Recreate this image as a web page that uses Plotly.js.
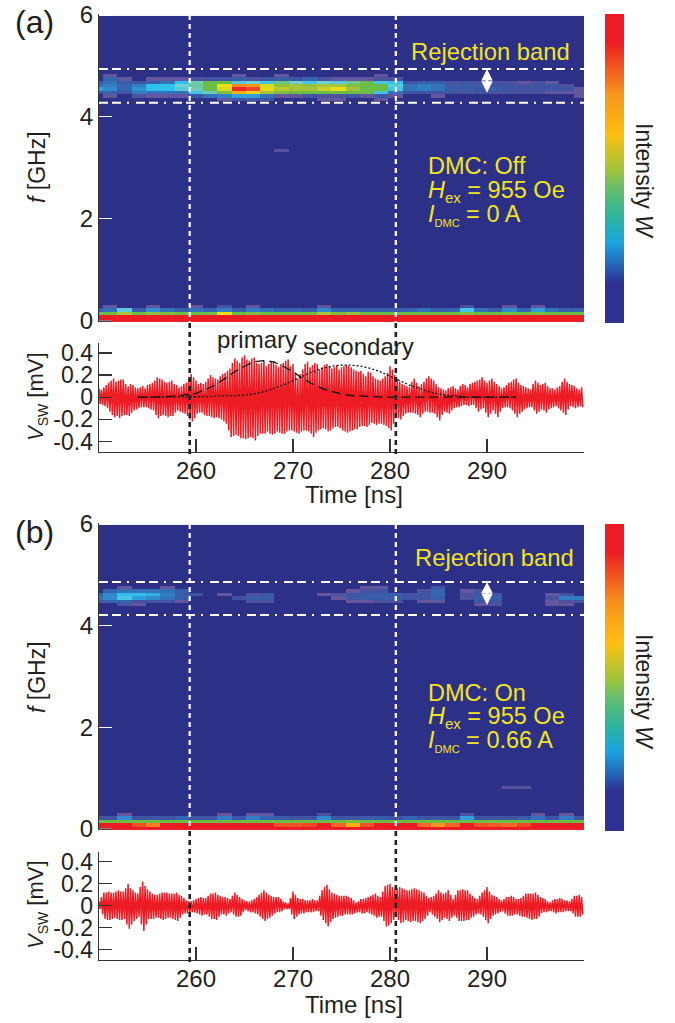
<!DOCTYPE html>
<html><head><meta charset="utf-8">
<script src="https://cdn.plot.ly/plotly-3.0.1.min.js"></script>
<style>html,body{margin:0;padding:0;background:#fff}#g{width:675px;height:1023px}</style>
</head><body><div id="g"></div>
<script>
// --- Spectrogram rows (35 time bins), named by row index k, f = 0.012 + 0.0667 k GHz ---
const a72=[0,.10,0,0,0,0,0,0,0,0,.10,0,0,.10,0,0,0,0,0,0,.10,0,0,0,0,0,0,0,0,0,0,0,0,0,0];
const a71=[0,.18,.10,0,.10,.10,.10,.12,.14,.14,.16,.12,.14,.16,.14,.18,.12,.10,.10,.10,.12,.12,0,0,0,0,0,0,0,0,0,0,0,0,0];
const a70=[.14,.20,.16,.14,.16,.20,.28,.36,.44,.44,.32,.34,.30,.40,.34,.30,.34,.32,.38,.44,.30,.28,.14,.16,.16,.12,.14,.12,.12,.12,.10,.12,.10,0,0];
const a69=[.20,.22,.18,.22,.28,.28,.34,.38,.44,.58,.80,.78,.56,.48,.50,.48,.50,.50,.46,.44,.44,.32,.20,.22,.20,.16,.16,.16,.14,.14,.14,.14,.14,.12,0];
const a68=[.26,.24,.18,.25,.28,.28,.32,.36,.44,.56,.98,.92,.60,.52,.50,.50,.54,.58,.50,.44,.44,.30,.20,.22,.20,.16,.16,.14,.16,.14,.14,.14,.14,.14,.10];
const a67=[.14,.18,.14,.22,.20,.20,.20,.30,.36,.46,.72,.62,.50,.46,.44,.44,.44,.44,.44,.44,.30,.20,.14,.14,.14,.14,.12,.14,.12,.12,.12,.12,.10,.10,.10];
const a66=[0,.10,0,.12,.10,.10,.10,.14,.20,.22,.26,.26,.20,.10,.10,.14,.12,.12,.14,.10,.14,.10,0,0,.10,0,0,0,0,0,0,0,0,0,.10];
const a65=[0,0,0,0,0,0,0,0,0,.10,.14,.14,.14,0,0,0,.10,.10,0,0,.10,0,0,0,0,0,0,0,0,0,0,0,0,0,0];
const a50=[0,0,0,0,0,0,0,0,0,0,0,0,0,.11,0,0,0,0,0,0,0,0,0,0,0,0,0,0,0,0,0,0,0,0,0];
const a04=[0,.10,0,0,.10,0,0,.10,0,.14,0,.10,0,0,0,0,.10,0,0,0,0,0,0,0,0,0,.14,0,0,.10,0,.10,0,0,0];
const a03=[.16,.20,.32,.16,.25,.20,.16,.20,.18,.22,.16,.22,.20,.18,.18,.16,.24,.18,.18,.16,.16,.16,.18,.20,.16,.18,.30,.20,.16,.24,.18,.26,.20,.16,.18];
const a02=[.44,.44,.50,.44,.47,.46,.44,.44,.45,.58,.44,.46,.44,.44,.44,.44,.50,.46,.48,.44,.44,.44,.44,.44,.44,.44,.46,.44,.44,.45,.44,.45,.44,.44,.44];
const a01=new Array(35).fill(1), a00=new Array(35).fill(1);

const b71=[0,0,.10,0,0,.10,0,0,0,0,0,0,0,0,0,0,0,0,0,.10,.10,0,0,0,.14,0,0,0,0,0,0,0,0,0,0];
const b70=[0,.18,.20,.20,.20,.20,.16,0,0,0,0,0,0,0,0,0,0,0,.10,.12,.14,0,0,.12,.18,0,.10,.12,0,0,0,0,0,0,0];
const b69=[.18,.24,.28,.28,.27,.22,.16,.14,0,.10,0,.12,.14,0,0,0,.10,.12,.14,.16,.16,.16,.14,.14,.18,0,.12,.14,.14,0,0,0,.10,.14,0];
const b68=[.20,.24,.30,.26,.24,.20,.16,0,0,0,.13,.16,.16,0,0,0,0,.10,.14,.16,.16,.16,.14,.14,.16,0,.12,.16,.16,0,0,0,.12,.22,.22];
const b67=[.12,.18,.18,.14,.14,.14,.10,0,0,0,0,.12,.12,0,0,0,0,0,.10,.10,.12,.12,0,.10,.10,0,0,.14,.14,0,0,0,.10,.12,.14];
const b66=[0,0,.12,.10,0,0,0,0,0,0,0,0,0,0,0,0,0,0,0,0,0,0,0,0,0,0,0,.10,.12,0,0,0,.10,.10,0];
const b12=[0,0,0,0,0,0,0,0,0,0,0,0,0,0,0,0,0,0,0,0,0,0,0,0,0,0,0,0,0,.11,.11,0,0,0,0];
const b04=[0,0,.10,0,0,0,0,0,0,.10,0,.10,.10,0,0,0,.12,0,0,0,0,0,0,0,0,0,.12,0,0,0,0,.10,0,.10,0];
const b03=[.14,.14,.24,.14,.14,.14,.18,.14,.14,.22,.14,.22,.18,.16,.14,.14,.24,.14,.14,.16,.16,.14,.18,.14,.14,.14,.26,.14,.14,.14,.16,.20,.14,.22,.14];
const b02=[.44,.44,.44,.44,.44,.44,.44,.44,.44,.44,.44,.44,.44,.44,.44,.44,.44,.44,.46,.44,.44,.44,.44,.44,.44,.44,.44,.44,.44,.44,.44,.44,.44,.44,.44];
const b01=[1,1,1,.90,.82,1,1,1,1,1,1,1,1,.90,.90,.92,1,.86,.72,.90,1,1,1,.86,.78,.86,1,.90,.88,.86,.92,1,1,1,1];
const b00=new Array(35).fill(1);

// --- Spin-wave voltage: peak sizes in mV, every 0.125 ns from 250 ns (upper, lower, midUpper, midLower in turn) ---
const upperA=[.08,.09,.13,.17,.15,.16,.10,.11,.08,.10,
.11,.13,.18,.16,.13,.15,.11,.10,.13,.21,
.15,.13,.14,.20,.17,.19,.22,.26,.35,.31,
.38,.33,.36,.30,.33,.30,.32,.27,.31,.34,
.30,.17,.25,.32,.29,.30,.27,.30,.26,.29,
.27,.29,.27,.24,.24,.19,.22,.17,.15,.19,
.28,.20,.14,.11,.09,.17,.10,.14,.19,.15,
.09,.07,.08,.10,.07,.12,.09,.13,.15,.18,
.13,.17,.12,.08,.11,.14,.17,.11,.09,.07,
.15,.11,.13,.08,.07,.10,.17,.12,.10,.07];
const lowerA=[.06,.08,.13,.18,.19,.16,.17,.12,.10,.09,
.10,.12,.19,.16,.18,.17,.12,.14,.17,.22,
.15,.14,.17,.18,.18,.20,.24,.36,.34,.37,
.38,.36,.39,.33,.33,.33,.33,.32,.33,.30,
.31,.33,.30,.31,.36,.30,.28,.31,.28,.27,
.30,.32,.30,.29,.26,.27,.23,.25,.24,.26,
.30,.18,.20,.15,.14,.15,.18,.13,.14,.15,
.21,.13,.15,.10,.09,.07,.08,.07,.13,.10,
.18,.12,.18,.10,.09,.12,.18,.13,.10,.09,
.15,.11,.14,.10,.08,.12,.16,.08,.10,.08];
const midUpperA=[.07,.11,.15,.14,.16,.12,.12,.09,.09,.08,
.12,.15,.17,.14,.14,.12,.09,.12,.17,.18,
.12,.12,.17,.18,.16,.21,.24,.31,.33,.36,
.34,.35,.31,.31,.28,.33,.29,.30,.33,.28,
.22,.21,.30,.27,.31,.25,.29,.28,.27,.25,
.28,.28,.25,.23,.21,.23,.19,.16,.17,.22,
.25,.17,.12,.10,.14,.13,.12,.17,.17,.12,
.08,.06,.09,.08,.10,.11,.12,.14,.16,.15,
.15,.14,.10,.09,.13,.16,.13,.10,.08,.12,
.13,.12,.10,.08,.09,.14,.14,.11,.08,.09];
const midLowerA=[.07,.10,.16,.17,.17,.16,.14,.11,.09,.09,
.11,.16,.17,.17,.17,.14,.13,.15,.20,.19,
.14,.16,.17,.19,.19,.22,.30,.35,.35,.37,
.37,.37,.35,.33,.31,.34,.31,.33,.31,.30,
.32,.31,.30,.33,.32,.29,.29,.30,.27,.28,
.31,.31,.29,.27,.26,.25,.24,.24,.25,.28,
.24,.19,.17,.14,.14,.16,.15,.13,.14,.18,
.16,.14,.12,.09,.08,.07,.07,.10,.11,.14,
.15,.15,.13,.09,.10,.15,.15,.11,.09,.12,
.13,.12,.11,.09,.10,.14,.11,.09,.09,.09];
const upperB=[.04,.12,.13,.12,.14,.13,.20,.14,.11,.22,
.15,.11,.10,.12,.12,.11,.12,.09,.05,.04,
.06,.08,.07,.11,.12,.09,.08,.06,.12,.08,
.05,.04,.06,.10,.14,.10,.08,.08,.04,.02,
.13,.07,.06,.05,.06,.05,.14,.19,.12,.10,
.09,.09,.07,.03,.06,.07,.09,.11,.08,.18,
.20,.15,.17,.15,.14,.16,.14,.12,.07,.09,
.14,.11,.14,.06,.14,.15,.14,.09,.06,.12,
.17,.10,.08,.05,.08,.09,.06,.07,.11,.11,
.12,.08,.06,.03,.06,.07,.05,.04,.09,.10];
const lowerB=[.03,.12,.13,.11,.13,.12,.21,.14,.10,.23,
.12,.12,.11,.13,.11,.12,.14,.08,.07,.06,
.07,.09,.08,.12,.13,.08,.09,.06,.10,.09,
.04,.06,.07,.10,.14,.11,.07,.06,.03,.03,
.12,.08,.07,.06,.06,.05,.13,.19,.12,.10,
.09,.08,.08,.06,.07,.06,.08,.11,.10,.19,
.16,.10,.16,.13,.15,.14,.16,.12,.06,.10,
.15,.11,.14,.09,.14,.14,.13,.10,.07,.10,
.16,.09,.07,.05,.09,.09,.08,.10,.11,.13,
.12,.07,.06,.05,.07,.06,.05,.05,.10,.10];
const midUpperB=[.08,.12,.12,.13,.13,.16,.16,.12,.17,.18,
.13,.10,.11,.12,.11,.11,.10,.07,.04,.05,
.07,.07,.09,.11,.10,.08,.07,.09,.10,.06,
.04,.05,.08,.12,.12,.09,.08,.06,.03,.07,
.10,.06,.05,.05,.05,.09,.17,.15,.11,.09,
.09,.08,.05,.04,.06,.08,.10,.09,.13,.19,
.17,.16,.16,.14,.15,.15,.13,.09,.08,.11,
.12,.12,.10,.10,.14,.14,.11,.07,.09,.14,
.13,.09,.06,.06,.08,.08,.06,.09,.11,.11,
.10,.07,.04,.05,.06,.06,.05,.06,.09,.08];
const midLowerB=[.08,.13,.12,.12,.13,.17,.17,.12,.17,.17,
.12,.11,.12,.12,.11,.13,.11,.07,.06,.06,
.08,.08,.10,.12,.10,.08,.07,.08,.10,.06,
.05,.06,.08,.12,.12,.09,.06,.05,.03,.08,
.10,.07,.06,.06,.05,.09,.16,.15,.11,.09,
.08,.08,.07,.06,.07,.07,.09,.10,.14,.18,
.13,.13,.15,.14,.14,.15,.14,.09,.08,.12,
.13,.12,.11,.11,.14,.13,.11,.08,.08,.13,
.12,.08,.06,.07,.09,.08,.09,.10,.12,.12,
.10,.06,.05,.06,.06,.06,.05,.07,.10,.08];

// --- Fitted pulses in panel (a) ---
const pulseTimes=[254,255,256,257,258,259,260,261,262,263,264,265,266,267,268,269,270,271,272,273,274,275,276,277,278,279,280,281,282,283,284,285,286,287,288,289,290,291,292,293];
const primary=[0,0,0,.005,.01,.02,.035,.07,.11,.17,.23,.28,.32,.33,.32,.28,.23,.17,.12,.08,.05,.03,.015,.01,.005,0,0,0,0,0,0,0,0,0,0,0,0,0,0,0];
const secondary=[0,0,0,0,0,0,0,.005,.01,.01,.015,.02,.03,.05,.08,.11,.15,.19,.23,.26,.28,.29,.29,.28,.26,.23,.19,.15,.11,.08,.05,.03,.015,.01,0,0,0,0,0,0];

// --- Ticks ---
const timeTicks=[260,270,280,290,300], timeLabels=['260','270','280','290',' '];
const fTicks=[0,2,4,6];
const vTicks=[.4,.2,0,-.2,-.4], vLabels=['0.4','0.2','0','-0.2','-0.4'];

// --- Helpers ---
const W=675,H=1023;
const px=(a,b)=>[1-b/H,1-a/H];
const rowCount=90, colCount=35;
function grid(rows){const z=[];for(let k=0;k<rowCount;k++){z.push(rows[k]||new Array(colCount).fill(0));}return z;}
function zig(up,lo,mu,ml){const t=[],v=[];up.forEach((u,i)=>{const b=250+i*.5;t.push(b);v.push(u);t.push(b+.125);v.push(-lo[i]);t.push(b+.25);v.push(mu[i]);t.push(b+.375);v.push(-ml[i]);});return{t,v};}

const heatScale=[[0,'#2c3187'],[.07,'#2c3187'],[.10,'#64559f'],[.13,'#41509f'],[.18,'#3565b0'],[.25,'#2f90d0'],[.28,'#2fc0ee'],[.34,'#6fd0d0'],[.44,'#6abd45'],[.50,'#a6c43a'],[.58,'#e8e116'],[.68,'#fdc010'],[.78,'#f7941d'],[.88,'#f15a29'],[1,'#ed1c24']];
const barScale=[[0,'#2e3192'],[.13,'#2e3192'],[.26,'#1ba5df'],[.34,'#2bb3a0'],[.44,'#6abd6a'],[.49,'#9bc43c'],[.61,'#fdc010'],[.74,'#f7941d'],[.91,'#ed1c24'],[1,'#ed1c24']];

const textCol='#231f20', yellow='#f2e423', font='Liberation Sans, Arial, sans-serif', red='#ed1c24';

function heat(rows,xa,ya){return{type:'heatmap',z:grid(rows),x0:249.7,dx:1.469,y0:.012,dy:.0667,xaxis:xa,yaxis:ya,colorscale:heatScale,zmin:0,zmax:1,showscale:false,hoverinfo:'skip'};}
function bar(xa,ya,top,len){return{type:'scatter',mode:'markers',x:[275,275],y:[-50,-50],xaxis:xa,yaxis:ya,hoverinfo:'skip',showlegend:false,
 marker:{size:1,color:[0,1],cmin:0,cmax:1,colorscale:barScale,showscale:true,colorbar:{x:605/W,xanchor:'left',xpad:0,ypad:0,y:1-top/H,yanchor:'top',lenmode:'fraction',len:len/H,thickness:19,thicknessmode:'pixels',outlinewidth:0,ticks:'',showticklabels:false,tickvals:[]}}};}
function wave(up,lo,mu,ml,xa,ya){const s=zig(up,lo,mu,ml);return{type:'scatter',mode:'lines',x:s.t,y:s.v,xaxis:xa,yaxis:ya,line:{color:red,width:1.5},hoverinfo:'skip',showlegend:false};}

const rowsA={72:a72,71:a71,70:a70,69:a69,68:a68,67:a67,66:a66,65:a65,50:a50,4:a04,3:a03,2:a02,1:a01,0:a00};
const rowsB={71:b71,70:b70,69:b69,68:b68,67:b67,66:b66,12:b12,4:b04,3:b03,2:b02,1:b01,0:b00};

const data=[
 heat(rowsA,'x','y'),
 bar('x','y',14,309),
 wave(upperA,lowerA,midUpperA,midLowerA,'x2','y2'),
 {type:'scatter',mode:'lines',x:pulseTimes,y:primary,xaxis:'x2',yaxis:'y2',line:{color:'#111',width:1.3,dash:'9px,5px'},hoverinfo:'skip',showlegend:false},
 {type:'scatter',mode:'lines',x:pulseTimes,y:secondary,xaxis:'x2',yaxis:'y2',line:{color:'#111',width:1.3,dash:'2px,2px'},hoverinfo:'skip',showlegend:false},
 heat(rowsB,'x3','y3'),
 bar('x3','y3',524,307),
 wave(upperB,lowerB,midUpperB,midLowerB,'x4','y4')
];

const xDom=[99/W,584/W];
const heatY=(dom)=>({domain:dom,range:[-.021,6.02],tickmode:'array',tickvals:fTicks,ticks:'inside',ticklen:13,tickwidth:1,tickcolor:'#fff',showline:true,linecolor:'#333',linewidth:1.2,showgrid:false,zeroline:false,tickfont:{family:font,size:24,color:textCol}});
const heatX=(anchor)=>({domain:xDom,range:[250,300],anchor:anchor,showticklabels:false,ticks:'',showgrid:false,zeroline:false,showline:false});
const waveY=(dom)=>({domain:dom,range:[-.495,.49],tickmode:'array',tickvals:vTicks,ticktext:vLabels,ticks:'inside',ticklen:13,tickwidth:1.2,tickcolor:'#333',showline:true,linecolor:'#333',linewidth:1.4,showgrid:false,zeroline:false,tickfont:{family:font,size:23,color:textCol}});
const waveX=(anchor)=>({domain:xDom,range:[250,300],anchor:anchor,tickmode:'array',tickvals:timeTicks,ticktext:timeLabels,ticks:'inside',ticklen:13,tickwidth:1.2,tickcolor:'#333',showline:true,linecolor:'#333',linewidth:1.4,showgrid:false,zeroline:false,ticklabelstandoff:-3,tickfont:{family:font,size:24,color:textCol}});

function note(text,xp,yp,size,opts){return Object.assign({text:text,xref:'paper',yref:'paper',x:xp/W,y:1-yp/H,xanchor:'left',yanchor:'middle',showarrow:false,font:{family:font,size:size,color:textCol}},opts||{});}
const ylw=(s)=>({font:{family:font,size:s,color:yellow}});
const small=(t,s)=>'<sub><span style="font-size:'+s+'px">'+t+'</span></sub>';

const annotations=[
 note('(a)',13,22,32),note('(b)',13,532,32),
 note('<i>f</i> [GHz]',37,167,23,{xanchor:'center',textangle:-90}),
 note('<i>f</i> [GHz]',37,677,23,{xanchor:'center',textangle:-90}),
 note('<i>V</i>'+small('SW',14)+' [mV]',37,397,22,{xanchor:'center',textangle:-90}),
 note('<i>V</i>'+small('SW',14)+' [mV]',37,905,22,{xanchor:'center',textangle:-90}),
 note('Time [ns]',354,494,24,{xanchor:'center'}),
 note('Time [ns]',354,1004,24,{xanchor:'center'}),
 note('Intensity <i>W</i>',644,181,23,{xanchor:'center',textangle:90}),
 note('Intensity <i>W</i>',644,692,23,{xanchor:'center',textangle:90}),
 note('primary',257,340,24,{xanchor:'center'}),
 note('secondary',359,347,24,{xanchor:'center'}),
 note('Rejection band',490,52,23.8,Object.assign({xanchor:'center'},ylw(23.8))),
 note('Rejection band',494,557,23.8,Object.assign({xanchor:'center'},ylw(23.8))),
 note('DMC: Off',426,166,23.5,ylw(23.5)),
 note('<i>H</i>'+small('ex',15)+' = 955 Oe',426,191,23.5,ylw(23.5)),
 note('<i>I</i>'+small('DMC',11)+' = 0 A',426,215,23.5,ylw(23.5)),
 note('DMC: On',426,693,23.5,ylw(23.5)),
 note('<i>H</i>'+small('ex',15)+' = 955 Oe',426,717,23.5,ylw(23.5)),
 note('<i>I</i>'+small('DMC',11)+' = 0.66 A',426,741,23.5,ylw(23.5)),
 {xref:'x',yref:'y',axref:'x',ayref:'y',x:290,y:4.94,ax:290,ay:4.28,text:' ',showarrow:true,arrowhead:2,arrowside:'end+start',arrowsize:.95,arrowwidth:2.4,arrowcolor:'#fff'},
 {xref:'x3',yref:'y3',axref:'x3',ayref:'y3',x:290,y:4.86,ax:290,ay:4.21,text:' ',showarrow:true,arrowhead:2,arrowside:'end+start',arrowsize:.95,arrowwidth:2.4,arrowcolor:'#fff'}
];

const vDash='5px,4px', bandDash='9px,4px,9px,6px,2px,7px';
function vline(xa,x,y0,y1,col,w){return{type:'line',xref:xa,yref:'paper',x0:x,x1:x,y0:1-y0/H,y1:1-y1/H,line:{color:col,width:w,dash:vDash},layer:'above'};}
function hline(xa,ya,f){return{type:'line',xref:xa,yref:ya,x0:250,x1:300,y0:f,y1:f,line:{color:'#fff',width:2,dash:bandDash},layer:'above'};}
function zeroTick(y){return{type:'line',xref:'paper',yref:'paper',x0:99/W,x1:112/W,y0:1-y/H,y1:1-y/H,line:{color:'#333',width:1.2},layer:'above'};}

const shapes=[
 vline('x',259.35,15,322,'#fff',2.2),vline('x',280.6,15,322,'#fff',2.2),
 vline('x2',259.35,323,456,'#222',2.6),vline('x2',280.6,323,456,'#222',2.6),
 vline('x3',259.35,524,830,'#fff',2.2),vline('x3',280.6,524,830,'#fff',2.2),
 vline('x4',259.35,831,962,'#222',2.6),vline('x4',280.6,831,962,'#222',2.6),
 hline('x','y',4.94),hline('x','y',4.28),hline('x3','y3',4.86),hline('x3','y3',4.21),
 zeroTick(321),zeroTick(829)
];

const layout={width:W,height:H,margin:{l:0,r:0,t:0,b:0},paper_bgcolor:'#fff',plot_bgcolor:'#fff',showlegend:false,
 xaxis:heatX('y'),yaxis:heatY(px(14,322)),
 xaxis2:waveX('y2'),yaxis2:Object.assign(waveY(px(343,452)),{anchor:'x2'}),
 xaxis3:heatX('y3'),yaxis3:Object.assign(heatY(px(523,830)),{anchor:'x3'}),
 xaxis4:waveX('y4'),yaxis4:Object.assign(waveY(px(852,960)),{anchor:'x4'}),
 annotations:annotations,shapes:shapes};

Plotly.newPlot('g',data,layout,{displayModeBar:false,staticPlot:true});
</script></body></html>
